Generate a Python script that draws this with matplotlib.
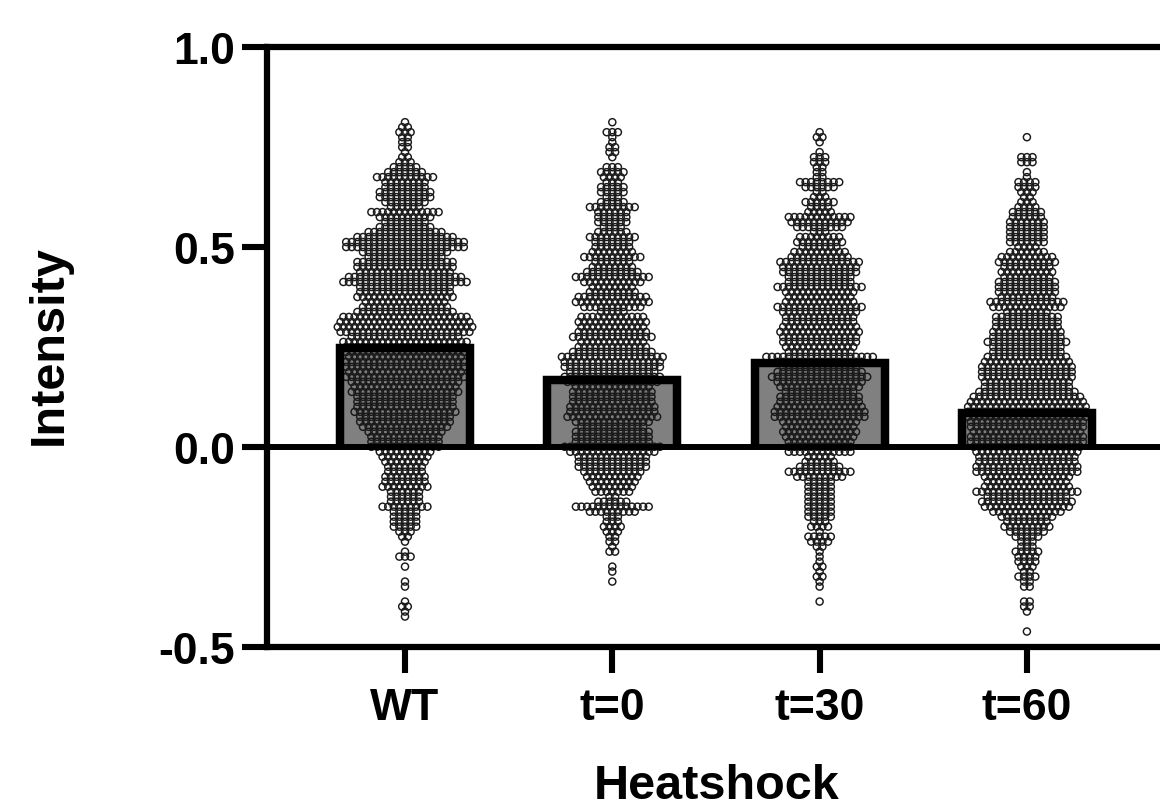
import matplotlib
matplotlib.use("Agg")
import matplotlib.pyplot as plt
import numpy as np

plt.rcParams['font.family'] = ['Liberation Sans', 'DejaVu Sans']
plt.rcParams['font.weight'] = 'bold'

categories = ['WT', 't=0', 't=30', 't=60']
means = [0.2475, 0.166, 0.21, 0.084]
y_ticks = [-0.5, 0.0, 0.5, 1.0]
y_labels = ['-0.5', '0.0', '0.5', '1.0']

# Intensity level of each row of the swarm, and number of cells read at each level
levels = [
    0.8125, 0.8, 0.7875, 0.775, 0.7625, 0.75, 0.7375, 0.725, 0.7125, 0.7,
    0.6875, 0.675, 0.6625, 0.65, 0.6375, 0.625, 0.6125, 0.6, 0.5875, 0.575,
    0.5625, 0.55, 0.5375, 0.525, 0.5125, 0.5, 0.4875, 0.475, 0.4625, 0.45,
    0.4375, 0.425, 0.4125, 0.4, 0.3875, 0.375, 0.3625, 0.35, 0.3375, 0.325,
    0.3125, 0.3, 0.2875, 0.275, 0.2625, 0.25, 0.2375, 0.225, 0.2125, 0.2,
    0.1875, 0.175, 0.1625, 0.15, 0.1375, 0.125, 0.1125, 0.1, 0.0875, 0.075,
    0.0625, 0.05, 0.0375, 0.025, 0.0125, 0.0, -0.0125, -0.025, -0.0375, -0.05,
    -0.0625, -0.075, -0.0875, -0.1, -0.1125, -0.125, -0.1375, -0.15, -0.1625, -0.175,
    -0.1875, -0.2, -0.2125, -0.225, -0.2375, -0.25, -0.2625, -0.275, -0.2875, -0.3,
    -0.3125, -0.325, -0.3375, -0.35, -0.3625, -0.375, -0.3875, -0.4, -0.4125, -0.425,
    -0.4375, -0.45, -0.4625,
]
wt_counts = [
    1, 2, 3, 2, 2, 2, 1, 2, 3, 5,
    7, 11, 8, 8, 10, 10, 8, 6, 13, 10,
    8, 10, 14, 18, 22, 22, 16, 14, 18, 18,
    17, 21, 23, 17, 17, 18, 15, 16, 18, 23,
    24, 25, 24, 20, 23, 22, 22, 21, 22, 22,
    21, 22, 20, 19, 20, 18, 18, 18, 19, 17,
    17, 16, 14, 13, 13, 13, 10, 9, 8, 7,
    7, 8, 8, 9, 6, 6, 6, 9, 5, 5,
    5, 5, 3, 2, 1, 0, 1, 3, 0, 1,
    0, 0, 1, 1, 0, 0, 1, 2, 1, 1,
    0, 0, 0,
]
t0_counts = [
    1, 0, 3, 1, 1, 2, 2, 1, 0, 3,
    5, 4, 3, 5, 5, 3, 5, 9, 6, 6,
    6, 4, 6, 9, 7, 7, 8, 11, 7, 8,
    10, 14, 11, 8, 9, 13, 14, 11, 5, 12,
    13, 12, 13, 15, 12, 13, 15, 19, 18, 18,
    16, 18, 17, 14, 15, 15, 15, 16, 16, 17,
    14, 12, 14, 14, 14, 18, 16, 13, 13, 13,
    11, 10, 9, 8, 7, 2, 6, 14, 9, 3,
    3, 4, 3, 2, 2, 1, 2, 0, 0, 1,
    1, 0, 1, 0, 0, 0, 0, 0, 0, 0,
    0, 0, 0,
]
t30_counts = [
    0, 0, 1, 2, 1, 0, 1, 3, 3, 2,
    2, 2, 8, 6, 2, 3, 6, 4, 5, 12,
    11, 9, 3, 8, 9, 7, 10, 11, 15, 14,
    14, 12, 12, 16, 13, 12, 13, 16, 14, 13,
    13, 14, 15, 14, 14, 13, 12, 20, 16, 14,
    16, 18, 16, 15, 13, 15, 15, 16, 17, 17,
    14, 13, 14, 13, 12, 12, 12, 5, 6, 8,
    12, 9, 5, 5, 5, 5, 5, 5, 5, 5,
    3, 4, 1, 5, 4, 2, 1, 1, 1, 2,
    1, 2, 1, 1, 0, 0, 1, 0, 0, 0,
    0, 0, 0,
]
t60_counts = [
    0, 0, 0, 1, 0, 0, 0, 3, 3, 0,
    1, 1, 4, 4, 3, 2, 3, 4, 6, 6,
    7, 7, 7, 7, 7, 4, 7, 10, 11, 9,
    10, 9, 11, 11, 11, 10, 14, 13, 8, 12,
    12, 12, 13, 13, 15, 13, 13, 15, 16, 17,
    17, 17, 16, 16, 18, 20, 21, 22, 22, 22,
    21, 21, 20, 21, 21, 20, 19, 18, 18, 19,
    19, 16, 15, 16, 19, 15, 17, 16, 13, 10,
    8, 9, 7, 5, 3, 3, 5, 4, 4, 3,
    2, 4, 2, 2, 0, 0, 2, 2, 1, 0,
    0, 0, 1,
]
all_counts = [wt_counts, t0_counts, t30_counts, t60_counts]
assert all(len(c) == len(levels) for c in all_counts), [len(c) for c in all_counts]

W, H = 1160, 803
fig = plt.figure(figsize=(W / 100, H / 100), dpi=100)
ax = fig.add_axes([267 / W, (H - 647.5) / H, (W - 267) / W, 599.2 / H])
ax.set_ylim(-0.5, 1.0)
ax.set_xlim(-0.6657, 3.642)

px = 1 / 207.3          # one pixel in x data units
step = 5.6 * px         # horizontal spacing between neighbours in a swarm row
bar_w = 130 * px

for i, (m, counts) in enumerate(zip(means, all_counts)):
    ax.bar(i, m, width=bar_w, color='#808080', linewidth=0, zorder=1)
    xs, ys = [], []
    for lv, n in zip(levels, counts):
        for k in range(n):
            xs.append(i + (k - (n - 1) / 2) * step)
            ys.append(lv)
    ax.scatter(xs, ys, s=26, facecolors='none', edgecolors='#1a1a1a',
               linewidths=1.05, zorder=2)
    ax.plot([i - bar_w / 2, i - bar_w / 2, i + bar_w / 2, i + bar_w / 2],
            [0, m, m, 0], color='black', lw=6.1,
            solid_joinstyle='miter', solid_capstyle='butt', zorder=3)

ax.axhline(0, color='black', lw=4.3, zorder=4)

for s in ['left', 'top', 'bottom']:
    ax.spines[s].set_linewidth(4.5)
    ax.spines[s].set_zorder(5)
ax.spines['right'].set_visible(False)

ax.set_yticks(y_ticks)
ax.set_yticklabels(y_labels)
ax.set_xticks(range(len(categories)))
ax.set_xticklabels(categories)
ax.tick_params(axis='y', length=18, width=4.4, pad=5, labelsize=32)
ax.tick_params(axis='x', length=18.4, width=4.4, pad=11, labelsize=32)

fig.text(717 / W, 1 - 799 / H, 'Heatshock', ha='center', va='baseline',
         fontsize=35, fontweight='bold')
fig.text(49 / W, 1 - 345 / H, 'Intensity', ha='center', va='center',
         rotation=90, fontsize=35, fontweight='bold')

fig.savefig('out.png', dpi=100)
